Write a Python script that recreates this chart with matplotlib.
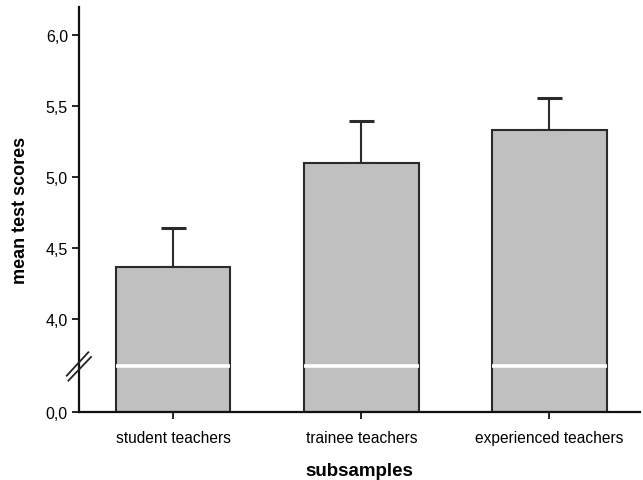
import matplotlib
matplotlib.use("Agg")
import matplotlib.pyplot as plt
import numpy as np

plt.rcParams['font.family'] = ['Liberation Sans', 'DejaVu Sans']

# mean scores and upper standard errors per subsample
groups = ["student teachers", "trainee teachers", "experienced teachers"]
means = [4.37, 5.10, 5.33]
errors = [0.27, 0.30, 0.23]
y_ticks = [0.0, 4.0, 4.5, 5.0, 5.5, 6.0]

# broken axis: 0..4 gets squeezed into a short stub under the 4,0 tick
SPLIT = 4.0
STUB_LOW = 3.346
STUB = SPLIT - STUB_LOW
BREAK_AT = 2.0  # where the white gap crosses the bars


def fwd(v):
    v = np.asarray(v, dtype=float)
    return np.where(v < SPLIT, STUB_LOW + v * STUB / SPLIT, v)


def inv(d):
    d = np.asarray(d, dtype=float)
    return np.where(d < SPLIT, (d - STUB_LOW) * SPLIT / STUB, d)


fig = plt.figure(figsize=(6.43, 4.81), dpi=100)
ax = fig.add_axes([0.1229, 0.1414, 0.872, 0.842])
ax.set_yscale('function', functions=(fwd, inv))

x = np.arange(len(groups))
width = 0.61
ax.bar(x, means, width=width, color='#c0c0c0', edgecolor='#2b2b2b',
       linewidth=1.5, zorder=2)
ax.errorbar(x, means, yerr=[np.zeros(len(errors)), errors], fmt='none',
            ecolor='#2b2b2b', elinewidth=1.5, capsize=9, capthick=2.2, zorder=1)

# white gap across each bar at the axis break
ax.hlines([BREAK_AT] * len(x), x - width / 2, x + width / 2,
          colors='white', linewidth=2.6, zorder=3)

ax.set_ylim(0, 6.2)
ax.set_xlim(-0.5, 2.48)
ax.set_yticks(y_ticks)
ax.set_yticklabels([f"{t:.1f}".replace('.', ',') for t in y_ticks])
ax.set_xticks(x)
ax.set_xticklabels(groups)

for side in ['top', 'right']:
    ax.spines[side].set_visible(False)
for side in ['left', 'bottom']:
    ax.spines[side].set_linewidth(1.6)
    ax.spines[side].set_color('#111111')
ax.tick_params(axis='y', length=5, width=1.2, labelsize=11.5, pad=3)
ax.tick_params(axis='x', length=5, width=1.2, labelsize=11.2, pad=8)

ax.set_ylabel("mean test scores", fontsize=13, fontweight='bold', labelpad=12)
ax.set_xlabel("subsamples", fontsize=13.5, fontweight='bold', labelpad=12)

# the // marks on the y axis (axes fractions, axes is 561 x 405 px)
pw, ph = 561.0, 405.0
for (x0, y0, x1, y1) in [(-12.3, 36.3, 9.3, 59.7), (-10.7, 31.3, 12.0, 55.0)]:
    ax.plot([x0 / pw, x1 / pw], [y0 / ph, y1 / ph], transform=ax.transAxes,
            color='#222222', linewidth=1.3, clip_on=False, zorder=4)

fig.savefig("out.png", dpi=100)
